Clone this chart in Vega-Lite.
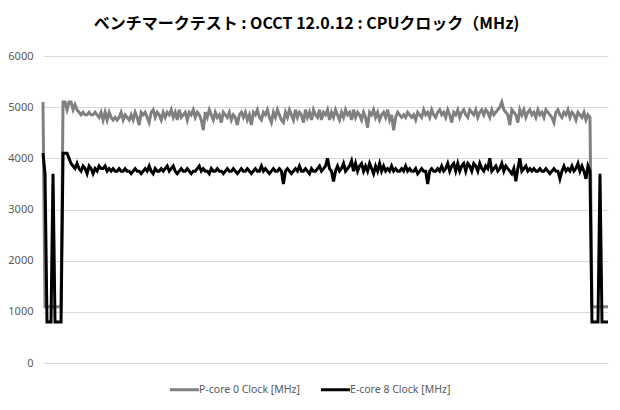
{
  "$schema": "https://vega.github.io/schema/vega-lite/v6.json",
  "width": 565,
  "height": 307,
  "autosize": {"type": "none"},
  "padding": {"left": 43, "top": 56, "right": 12, "bottom": 47},
  "background": "white",
  "config": {"view": {"stroke": null}, "font": "Noto Sans"},
  "title": {
    "text": "ベンチマークテスト : OCCT 12.0.12 : CPUクロック（MHz)",
    "font": "Noto Sans CJK JP",
    "fontSize": 16,
    "fontWeight": "bold",
    "color": "#000000",
    "anchor": "middle",
    "dx": -19,
    "offset": 18
  },
  "data": {"values": [
{"i":0,"p":5100,"e":4100},{"i":1,"p":1100,"e":3700},{"i":2,"p":1100,"e":800},{"i":3,"p":1100,"e":800},{"i":4,"p":1100,"e":800},{"i":5,"p":1100,"e":3700},{"i":6,"p":1100,"e":800},{"i":7,"p":1100,"e":800},{"i":8,"p":1100,"e":800},{"i":9,"p":1100,"e":800},
{"i":10,"p":5100,"e":4100},{"i":11,"p":5100,"e":4100},{"i":12,"p":4950,"e":4100},{"i":13,"p":5100,"e":4000},{"i":14,"p":5100,"e":3900},{"i":15,"p":4950,"e":3850},{"i":16,"p":5050,"e":3800},{"i":17,"p":4950,"e":3900},{"i":18,"p":4900,"e":3800},{"i":19,"p":4850,"e":3750},
{"i":20,"p":4900,"e":3850},{"i":21,"p":4850,"e":3800},{"i":22,"p":4850,"e":3700},{"i":23,"p":4900,"e":3850},{"i":24,"p":4850,"e":3800},{"i":25,"p":4850,"e":3700},{"i":26,"p":4900,"e":3800},{"i":27,"p":4850,"e":3750},{"i":28,"p":4800,"e":3850},{"i":29,"p":4900,"e":3800},
{"i":30,"p":4750,"e":3800},{"i":31,"p":4900,"e":3850},{"i":32,"p":4750,"e":3750},{"i":33,"p":4900,"e":3800},{"i":34,"p":4800,"e":3750},{"i":35,"p":4750,"e":3800},{"i":36,"p":4800,"e":3750},{"i":37,"p":4750,"e":3750},{"i":38,"p":4800,"e":3800},{"i":39,"p":4900,"e":3750},
{"i":40,"p":4750,"e":3750},{"i":41,"p":4850,"e":3800},{"i":42,"p":4800,"e":3750},{"i":43,"p":4750,"e":3750},{"i":44,"p":4850,"e":3700},{"i":45,"p":4750,"e":3750},{"i":46,"p":4900,"e":3800},{"i":47,"p":4800,"e":3750},{"i":48,"p":4650,"e":3750},{"i":49,"p":4900,"e":3700},
{"i":50,"p":4850,"e":3750},{"i":51,"p":4900,"e":3800},{"i":52,"p":4800,"e":3750},{"i":53,"p":4700,"e":3850},{"i":54,"p":4900,"e":3750},{"i":55,"p":4950,"e":3700},{"i":56,"p":4800,"e":3800},{"i":57,"p":4900,"e":3750},{"i":58,"p":4850,"e":3750},{"i":59,"p":4750,"e":3800},
{"i":60,"p":4900,"e":3750},{"i":61,"p":4800,"e":3800},{"i":62,"p":4900,"e":3850},{"i":63,"p":4850,"e":3750},{"i":64,"p":4950,"e":3800},{"i":65,"p":4800,"e":3850},{"i":66,"p":4900,"e":3750},{"i":67,"p":4750,"e":3700},{"i":68,"p":4950,"e":3750},{"i":69,"p":4800,"e":3800},
{"i":70,"p":4850,"e":3750},{"i":71,"p":4900,"e":3750},{"i":72,"p":4750,"e":3800},{"i":73,"p":4900,"e":3750},{"i":74,"p":4850,"e":3700},{"i":75,"p":4950,"e":3750},{"i":76,"p":4800,"e":3750},{"i":77,"p":4900,"e":3800},{"i":78,"p":4850,"e":3850},{"i":79,"p":4750,"e":3750},
{"i":80,"p":4550,"e":3800},{"i":81,"p":4900,"e":3750},{"i":82,"p":4800,"e":3750},{"i":83,"p":4950,"e":3700},{"i":84,"p":4850,"e":3800},{"i":85,"p":4750,"e":3750},{"i":86,"p":4900,"e":3750},{"i":87,"p":4800,"e":3800},{"i":88,"p":4850,"e":3750},{"i":89,"p":4700,"e":3750},
{"i":90,"p":4900,"e":3700},{"i":91,"p":4850,"e":3750},{"i":92,"p":4800,"e":3800},{"i":93,"p":4900,"e":3750},{"i":94,"p":4750,"e":3750},{"i":95,"p":4850,"e":3800},{"i":96,"p":4800,"e":3750},{"i":97,"p":4650,"e":3700},{"i":98,"p":4850,"e":3750},{"i":99,"p":4900,"e":3800},
{"i":100,"p":4800,"e":3750},{"i":101,"p":4900,"e":3750},{"i":102,"p":4750,"e":3800},{"i":103,"p":4850,"e":3750},{"i":104,"p":4650,"e":3700},{"i":105,"p":4900,"e":3750},{"i":106,"p":4850,"e":3800},{"i":107,"p":4950,"e":3750},{"i":108,"p":4800,"e":3750},{"i":109,"p":4750,"e":3850},
{"i":110,"p":4900,"e":3750},{"i":111,"p":4850,"e":3800},{"i":112,"p":4950,"e":3750},{"i":113,"p":4800,"e":3700},{"i":114,"p":4700,"e":3750},{"i":115,"p":4900,"e":3800},{"i":116,"p":4800,"e":3750},{"i":117,"p":4950,"e":3750},{"i":118,"p":4850,"e":3800},{"i":119,"p":4750,"e":3750},
{"i":120,"p":4700,"e":3500},{"i":121,"p":4900,"e":3750},{"i":122,"p":4800,"e":3800},{"i":123,"p":4950,"e":3750},{"i":124,"p":4850,"e":3700},{"i":125,"p":4750,"e":3750},{"i":126,"p":4950,"e":3800},{"i":127,"p":4800,"e":3750},{"i":128,"p":4900,"e":3850},{"i":129,"p":4850,"e":3750},
{"i":130,"p":4700,"e":3750},{"i":131,"p":4950,"e":3800},{"i":132,"p":4800,"e":3750},{"i":133,"p":4900,"e":3700},{"i":134,"p":4750,"e":3800},{"i":135,"p":4950,"e":3750},{"i":136,"p":4850,"e":3750},{"i":137,"p":4800,"e":3800},{"i":138,"p":4950,"e":3850},{"i":139,"p":4750,"e":3750},
{"i":140,"p":4900,"e":3800},{"i":141,"p":4850,"e":3850},{"i":142,"p":4950,"e":4000},{"i":143,"p":4750,"e":3800},{"i":144,"p":4900,"e":3750},{"i":145,"p":4800,"e":3550},{"i":146,"p":4950,"e":3750},{"i":147,"p":4850,"e":3850},{"i":148,"p":4750,"e":3750},{"i":149,"p":4900,"e":3800},
{"i":150,"p":4800,"e":3900},{"i":151,"p":4950,"e":3750},{"i":152,"p":4850,"e":3800},{"i":153,"p":4900,"e":3850},{"i":154,"p":4750,"e":3950},{"i":155,"p":4950,"e":3750},{"i":156,"p":4800,"e":3900},{"i":157,"p":4900,"e":3750},{"i":158,"p":4850,"e":3850},{"i":159,"p":4750,"e":3900},
{"i":160,"p":4900,"e":3750},{"i":161,"p":4800,"e":3850},{"i":162,"p":4600,"e":3750},{"i":163,"p":4900,"e":3900},{"i":164,"p":4850,"e":3800},{"i":165,"p":4950,"e":3700},{"i":166,"p":4800,"e":3850},{"i":167,"p":4900,"e":3750},{"i":168,"p":4750,"e":3900},{"i":169,"p":4850,"e":3750},
{"i":170,"p":4900,"e":3850},{"i":171,"p":4800,"e":3750},{"i":172,"p":4950,"e":3800},{"i":173,"p":4750,"e":3750},{"i":174,"p":4850,"e":3850},{"i":175,"p":4550,"e":3750},{"i":176,"p":4800,"e":3800},{"i":177,"p":4900,"e":3750},{"i":178,"p":4850,"e":3750},{"i":179,"p":4800,"e":3800},
{"i":180,"p":4850,"e":3750},{"i":181,"p":4800,"e":3850},{"i":182,"p":4900,"e":3750},{"i":183,"p":4850,"e":3800},{"i":184,"p":4800,"e":3750},{"i":185,"p":4850,"e":3750},{"i":186,"p":4750,"e":3800},{"i":187,"p":4900,"e":3700},{"i":188,"p":4850,"e":3750},{"i":189,"p":4800,"e":3800},
{"i":190,"p":4950,"e":3750},{"i":191,"p":4850,"e":3750},{"i":192,"p":4900,"e":3500},{"i":193,"p":4800,"e":3750},{"i":194,"p":4950,"e":3800},{"i":195,"p":4850,"e":3750},{"i":196,"p":4800,"e":3750},{"i":197,"p":4900,"e":3800},{"i":198,"p":4950,"e":3750},{"i":199,"p":4850,"e":3850},
{"i":200,"p":4900,"e":3750},{"i":201,"p":4800,"e":3800},{"i":202,"p":4950,"e":3900},{"i":203,"p":4850,"e":3750},{"i":204,"p":4700,"e":3850},{"i":205,"p":4900,"e":3900},{"i":206,"p":4850,"e":3750},{"i":207,"p":4950,"e":3900},{"i":208,"p":4800,"e":3750},{"i":209,"p":4900,"e":3850},
{"i":210,"p":4950,"e":3900},{"i":211,"p":4850,"e":3750},{"i":212,"p":4800,"e":3900},{"i":213,"p":4950,"e":3850},{"i":214,"p":4900,"e":3750},{"i":215,"p":4850,"e":3900},{"i":216,"p":4950,"e":3850},{"i":217,"p":4800,"e":3750},{"i":218,"p":4900,"e":3900},{"i":219,"p":4950,"e":3800},
{"i":220,"p":4850,"e":3750},{"i":221,"p":4950,"e":3850},{"i":222,"p":4900,"e":3800},{"i":223,"p":4800,"e":4000},{"i":224,"p":4950,"e":3750},{"i":225,"p":4850,"e":3800},{"i":226,"p":4900,"e":3850},{"i":227,"p":4950,"e":3750},{"i":228,"p":5000,"e":3800},{"i":229,"p":5100,"e":3900},
{"i":230,"p":4950,"e":3750},{"i":231,"p":4900,"e":3850},{"i":232,"p":4850,"e":3800},{"i":233,"p":4650,"e":3750},{"i":234,"p":4950,"e":3700},{"i":235,"p":4900,"e":3800},{"i":236,"p":4850,"e":3550},{"i":237,"p":4700,"e":3800},{"i":238,"p":4950,"e":4000},{"i":239,"p":4850,"e":3750},
{"i":240,"p":4950,"e":3800},{"i":241,"p":4800,"e":3850},{"i":242,"p":4900,"e":3750},{"i":243,"p":4950,"e":3800},{"i":244,"p":4850,"e":3750},{"i":245,"p":4900,"e":3800},{"i":246,"p":4800,"e":3750},{"i":247,"p":4950,"e":3750},{"i":248,"p":4850,"e":3800},{"i":249,"p":4900,"e":3750},
{"i":250,"p":4800,"e":3750},{"i":251,"p":4950,"e":3800},{"i":252,"p":4900,"e":3750},{"i":253,"p":4850,"e":3700},{"i":254,"p":4800,"e":3750},{"i":255,"p":4700,"e":3800},{"i":256,"p":4900,"e":3750},{"i":257,"p":4950,"e":3750},{"i":258,"p":4850,"e":3600},{"i":259,"p":4800,"e":3750},
{"i":260,"p":4900,"e":3850},{"i":261,"p":4850,"e":3750},{"i":262,"p":4950,"e":3800},{"i":263,"p":4800,"e":3750},{"i":264,"p":4900,"e":3850},{"i":265,"p":4850,"e":3750},{"i":266,"p":4750,"e":3800},{"i":267,"p":4900,"e":3900},{"i":268,"p":4850,"e":3750},{"i":269,"p":4800,"e":3850},
{"i":270,"p":4900,"e":3750},{"i":271,"p":4750,"e":3600},{"i":272,"p":4850,"e":3850},{"i":273,"p":4800,"e":3750},{"i":274,"p":1100,"e":800},{"i":275,"p":1100,"e":800},{"i":276,"p":1100,"e":800},{"i":277,"p":1100,"e":800},{"i":278,"p":1100,"e":3700},{"i":279,"p":1100,"e":800},
{"i":280,"p":1100,"e":800},{"i":281,"p":1100,"e":800},{"i":282,"p":1100,"e":800}
  ]},
  "encoding": {
    "x": {"field": "i", "type": "quantitative", "scale": {"domain": [0, 282], "nice": false, "zero": false},
          "axis": null}
  },
  "layer": [
    {
      "mark": {"type": "line", "strokeWidth": 3, "interpolate": "linear"},
      "encoding": {
        "y": {"field": "p", "type": "quantitative",
              "scale": {"domain": [0, 6000], "nice": false},
              "axis": {"title": null, "values": [0, 1000, 2000, 3000, 4000, 5000, 6000], "format": "d", "domain": false, "ticks": false,
                       "grid": true, "gridColor": "#d9d9d9", "gridWidth": 1,
                       "labelColor": "#595959", "labelFontSize": 11, "labelPadding": 10, "labelFont": "Noto Sans"}},
        "color": {"datum": "P-core 0 Clock [MHz]", "type": "nominal",
                  "scale": {"domain": ["P-core 0 Clock [MHz]", "E-core 8 Clock [MHz]"], "range": ["#808080", "#000000"]},
                  "legend": {"title": null, "orient": "none", "legendX": 125, "legendY": 317, "direction": "horizontal",
                             "symbolType": "stroke", "symbolSize": 850, "symbolStrokeWidth": 3,
                             "labelColor": "#595959", "labelFontSize": 10.5, "labelFont": "Noto Sans",
                             "columnPadding": 14, "labelOffset": -2}}
      }
    },
    {
      "mark": {"type": "line", "strokeWidth": 3, "interpolate": "linear"},
      "encoding": {
        "y": {"field": "e", "type": "quantitative"},
        "color": {"datum": "E-core 8 Clock [MHz]", "type": "nominal"}
      }
    }
  ]
}
